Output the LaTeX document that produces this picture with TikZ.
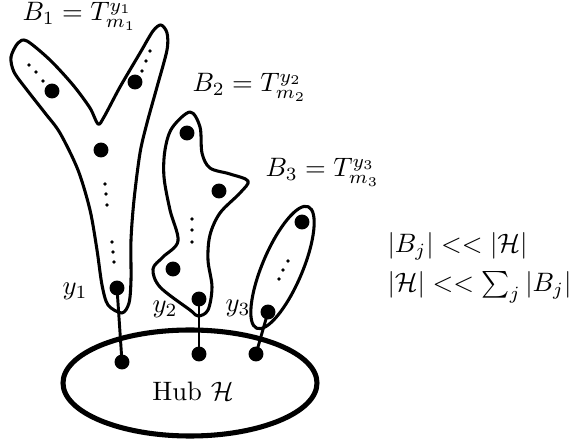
\documentclass[tikz,border=0pt]{standalone}
\usetikzlibrary{calc}
\begin{document}
\begin{tikzpicture}[x=0.375pt,y=-0.375pt,
  outline/.style={line width=1.15pt, line join=round},
  hubline/.style={line width=1.9pt},
  bigdot/.style={circle, fill=black, inner sep=0pt, minimum size=5.6pt},
  smalldot/.style={circle, fill=black, inner sep=0pt, minimum size=1.4pt},
  conn/.style={line width=1.1pt},
  lab/.style={inner sep=0pt, anchor=base west}]
\useasboundingbox (0,0) rectangle (569,442);
% B1
\draw[outline] plot[smooth cycle, tension=0.5] coordinates {
 (18,43) (27,41) (50,60) (73,85) (90,108) (98,124) (104,117) (120,87) (140,53) (153,31) (161,25) (167,33) (167,50) (157,87) (147,123) (140,153) (134,200) (131,240) (131,280) (129,303) (122,313) (108,305) (102,285) (97,250) (90,210) (78,170) (60,133) (45,113) (27,90) (14,72) (11,57)};
% B2
\draw[outline] plot[smooth cycle, tension=0.55] coordinates {
 (190,112) (200,127) (202,153) (210,168) (230,174) (248,181) (240,193) (220,213) (210,235) (208,260) (212,287) (208,310) (198,316) (190,310) (160,287) (153,269) (163,257) (178,241) (170,210) (164,177) (165,150) (172,128)};
% B3
\draw[outline, rotate around={67:(282.5,267.5)}] (282.5,267.5) ellipse [x radius=66, y radius=20];
% Hub
\draw[hubline] (190,383) ellipse [x radius=127, y radius=53];
% dots B1
\node[smalldot] (a1) at (29,65) {};
\node[smalldot] (a2) at (36,72) {};
\node[smalldot] (a3) at (43,81) {};
\node[bigdot] (p1) at (52,91) {};
\node[smalldot] (a4) at (150,51) {};
\node[smalldot] (a5) at (146,61) {};
\node[smalldot] (a6) at (142,71) {};
\node[bigdot] (p2) at (135,82) {};
\node[bigdot] (p3) at (101,150) {};
\node[smalldot] (a7) at (105,184) {};
\node[smalldot] (a8) at (106,194) {};
\node[smalldot] (a9) at (107,205) {};
\node[smalldot] (a10) at (112,242) {};
\node[smalldot] (a11) at (113,252) {};
\node[smalldot] (a12) at (114,262) {};
\node[bigdot] (y1) at (117,288) {};
% dots B2
\node[bigdot] (q1) at (187,133) {};
\node[bigdot] (q2) at (219,191) {};
\node[smalldot] (b1) at (192,219) {};
\node[smalldot] (b2) at (192,230) {};
\node[smalldot] (b3) at (192,242) {};
\node[bigdot] (q3) at (173,269) {};
\node[bigdot] (y2) at (199,299) {};
% dots B3
\node[bigdot] (r1) at (302,222) {};
\node[smalldot] (c1) at (288,261) {};
\node[smalldot] (c2) at (283,270) {};
\node[smalldot] (c3) at (279,279) {};
\node[bigdot] (y3) at (268,312) {};
% hub dots
\node[bigdot] (h1) at (122,362) {};
\node[bigdot] (h2) at (199,354) {};
\node[bigdot] (h3) at (256,354) {};
% connectors
\draw[conn] (y1.center) -- (h1.center);
\draw[conn] (y2.center) -- (h2.center);
\draw[conn] (y3.center) -- (h3.center);
% labels
\node[lab] (l1) at (22,21) {$B_1 = T^{y_1}_{m_1}$};
\node[lab] (l2) at (192,92) {$B_2 = T^{y_2}_{m_2}$};
\node[lab] (l3) at (265,177) {$B_3 = T^{y_3}_{m_3}$};
\node[lab] (ly1) at (62,295) {$y_1$};
\node[lab] (ly2) at (152,313) {$y_2$};
\node[lab] (ly3) at (225,312) {$y_3$};
\node[inner sep=0pt, anchor=base] (hub) at (193,401) {Hub $\mathcal{H}$};
\node[lab] (t1) at (387,253) {$|B_j| << |\mathcal{H}|$};
\node[lab] (t2) at (387,292) {$|\mathcal{H}| << \sum_j |B_j|$};
\end{tikzpicture}
\end{document}
